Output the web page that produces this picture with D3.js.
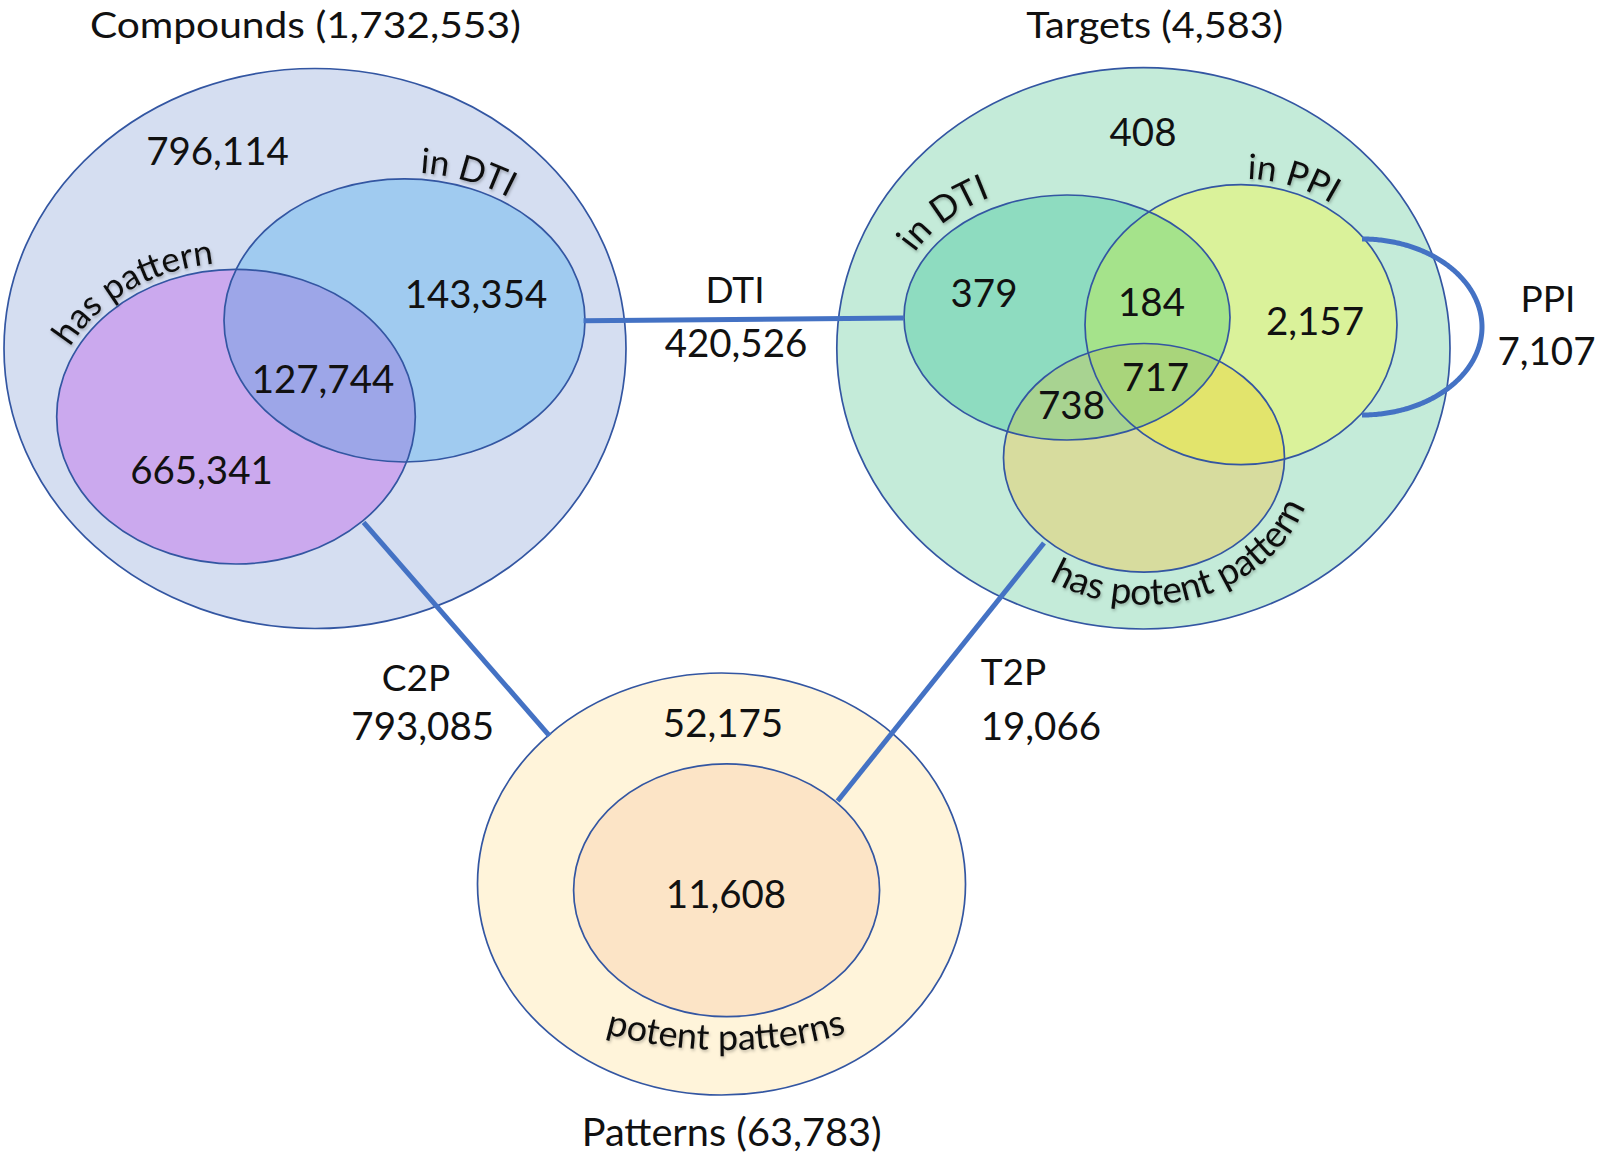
<!DOCTYPE html>
<html><head><meta charset="utf-8">
<script src="https://cdn.jsdelivr.net/npm/d3@7"></script>
<style>
body{margin:0;background:#fff}
svg{display:block}
text{font-family:Lato,"Open Sans",sans-serif;fill:#111}
</style>
</head><body>
<svg id="chart" width="1601" height="1158"></svg>
<script>
// ---------------- DATA ----------------
const setNames = ["Compounds", "Targets", "Patterns"];
const setTotals = [1732553, 4583, 63783];
const compoundRegionValues = [796114, 143354, 127744, 665341];
const targetRegionValues = [408, 379, 184, 2157, 717, 738];
const patternRegionValues = [52175, 11608];
const linkNames = ["DTI", "C2P", "T2P", "PPI"];
const linkValues = [420526, 793085, 19066, 7107];
const subsetLabels = ["in DTI", "has pattern", "in DTI", "in PPI", "has potent pattern", "potent patterns"];

// ---------------- LAYOUT ----------------
const W = 1601, H = 1158;
const x = d3.scaleLinear().domain([0, 1601]).range([0, W]);
const y = d3.scaleLinear().domain([0, 1158]).range([0, H]);
const fmt = d3.format(",");

const STROKE = "#3356A2";
const LINK = "#4472C4";

const E = {
  cOuter: {cx: 315, cy: 348.5, rx: 311, ry: 280, fill: "#D5DEF1"},
  cDTI:   {cx: 404.5, cy: 320.4, rx: 180.5, ry: 141.6, fill: "#A0CBF0"},
  cPat:   {cx: 236, cy: 416.7, rx: 179.3, ry: 147.3, fill: "#CBA9EE"},
  tOuter: {cx: 1143.4, cy: 348.3, rx: 306.6, ry: 280.7, fill: "#C4EBD9"},
  tDTI:   {cx: 1067, cy: 317.5, rx: 163, ry: 122.5, fill: "#8EDCC0"},
  tPPI:   {cx: 1241, cy: 324.7, rx: 156, ry: 140, fill: "#DAF29A"},
  tPot:   {cx: 1144, cy: 457.8, rx: 140.5, ry: 114.3, fill: "#D7DC9E"},
  pOuter: {cx: 721.5, cy: 884, rx: 244, ry: 211, fill: "#FFF4DA"},
  pPot:   {cx: 726.6, cy: 890.3, rx: 153, ry: 126.4, fill: "#FCE4C6"}
};
const intersections = [
  {sets: ["cDTI", "cPat"], fill: "#9DA6E8"},
  {sets: ["tDTI", "tPPI"], fill: "#A5E38B"},
  {sets: ["tDTI", "tPot"], fill: "#A8D391"},
  {sets: ["tPPI", "tPot"], fill: "#E2E46C"},
  {sets: ["tDTI", "tPPI", "tPot"], fill: "#A9D57B"}
];

const svg = d3.select("#chart");
const defs = svg.append("defs");
const shadow = defs.append("filter").attr("id", "sh").attr("x", "-10%").attr("y", "-10%").attr("width", "120%").attr("height", "130%");
shadow.append("feDropShadow").attr("dx", 1).attr("dy", 2).attr("stdDeviation", 1.5).attr("flood-color", "#000").attr("flood-opacity", 0.25);

function ell(sel, e) {
  return sel.append("ellipse")
    .attr("cx", x(e.cx)).attr("cy", y(e.cy))
    .attr("rx", x(e.rx) - x(0)).attr("ry", y(e.ry) - y(0));
}
Object.entries(E).forEach(([k, e]) => ell(defs.append("clipPath").attr("id", "clip-" + k), e));

// fills
const order = ["cOuter", "cDTI", "cPat", "tOuter", "tDTI", "tPPI", "tPot", "pOuter", "pPot"];
const gFill = svg.append("g");
order.forEach(k => ell(gFill, E[k]).attr("fill", E[k].fill));
intersections.forEach(it => {
  let g = gFill;
  it.sets.slice(0, -1).forEach(s => { g = g.append("g").attr("clip-path", `url(#clip-${s})`); });
  ell(g, E[it.sets[it.sets.length - 1]]).attr("fill", it.fill);
});
// outlines
const gStroke = svg.append("g");
order.forEach(k => ell(gStroke, E[k]).attr("fill", "none").attr("stroke", STROKE).attr("stroke-width", 1.7));

// arc sampling helper
function arcPts(a, t0, t1, n = 240) {
  const pts = [];
  for (let i = 0; i <= n; i++) {
    const t = (t0 + (t1 - t0) * i / n) * Math.PI / 180;
    pts.push([a.cx + a.rx * Math.cos(t), a.cy + a.ry * Math.sin(t)]);
  }
  return pts;
}
const line = d3.line().x(d => x(d[0])).y(d => y(d[1]));

// links
const linkGeom = [
  {pts: [[583.5, 320.8], [903.5, 318]]},
  {pts: [[363.6, 522.4], [549.5, 735.8]]},
  {pts: [[1044, 543], [837.6, 801]]},
  {pts: arcPts({cx: 1362, cy: 327, rx: 120, ry: 88}, -90, 90)}
];
const gLink = svg.append("g");
linkGeom.forEach(l => gLink.append("path").attr("d", line(l.pts))
  .attr("fill", "none").attr("stroke", LINK).attr("stroke-width", 5).attr("stroke-linecap", "butt"));

// straight labels
const NUM = 38.5, WORD = 37;
const labelPos = [
  // titles
  {t: `${setNames[0]} (${fmt(setTotals[0])})`, x: 305.4, y: 37.5, a: "middle", fs: 37, w: 431},
  {t: `${setNames[1]} (${fmt(setTotals[1])})`, x: 1154.7, y: 37.5, a: "middle", fs: 37, w: 257},
  {t: `${setNames[2]} (${fmt(setTotals[2])})`, x: 731.7, y: 1146, a: "middle", fs: 39, w: 300},
  // compounds
  {t: fmt(compoundRegionValues[0]), x: 217.5, y: 165, a: "middle", fs: NUM},
  {t: fmt(compoundRegionValues[1]), x: 476, y: 308, a: "middle", fs: NUM},
  {t: fmt(compoundRegionValues[2]), x: 323, y: 392.6, a: "middle", fs: NUM},
  {t: fmt(compoundRegionValues[3]), x: 201.5, y: 483.7, a: "middle", fs: NUM},
  // targets
  {t: fmt(targetRegionValues[0]), x: 1143, y: 146.4, a: "middle", fs: NUM},
  {t: fmt(targetRegionValues[1]), x: 984, y: 306.7, a: "middle", fs: NUM},
  {t: fmt(targetRegionValues[2]), x: 1151.5, y: 315.5, a: "middle", fs: NUM},
  {t: fmt(targetRegionValues[3]), x: 1315, y: 334.7, a: "middle", fs: NUM},
  {t: fmt(targetRegionValues[4]), x: 1155.6, y: 391.3, a: "middle", fs: NUM},
  {t: fmt(targetRegionValues[5]), x: 1071.5, y: 418.9, a: "middle", fs: NUM},
  // patterns
  {t: fmt(patternRegionValues[0]), x: 723, y: 736.5, a: "middle", fs: NUM},
  {t: fmt(patternRegionValues[1]), x: 726, y: 907.5, a: "middle", fs: NUM},
  // links
  {t: linkNames[0], x: 735, y: 303.3, a: "middle", fs: WORD},
  {t: fmt(linkValues[0]), x: 736, y: 356.7, a: "middle", fs: NUM},
  {t: linkNames[1], x: 416, y: 690.7, a: "middle", fs: WORD},
  {t: fmt(linkValues[1]), x: 422.7, y: 740, a: "middle", fs: NUM},
  {t: linkNames[2], x: 980.7, y: 685, a: "start", fs: WORD},
  {t: fmt(linkValues[2]), x: 980.7, y: 740, a: "start", fs: NUM},
  {t: linkNames[3], x: 1548, y: 311.7, a: "middle", fs: WORD},
  {t: fmt(linkValues[3]), x: 1546.5, y: 365, a: "middle", fs: NUM}
];
const gText = svg.append("g");
labelPos.forEach(l => {
  const t = gText.append("text").attr("x", x(l.x)).attr("y", y(l.y))
    .attr("text-anchor", l.a).attr("font-size", l.fs).text(l.t);
  if (l.w) t.attr("textLength", x(l.w) - x(0)).attr("lengthAdjust", "spacingAndGlyphs");
});

// curved labels
const curved = [
  {t: subsetLabels[0], a: {cx: 404.5, cy: 320.4, rx: 187, ry: 148}, t0: -180, t1: 0, tc: -71, fs: 35},
  {t: subsetLabels[1], a: {cx: 236, cy: 416.7, rx: 186, ry: 154}, t0: -200, t1: -20, tc: -124, fs: 35},
  {t: subsetLabels[2], a: {cx: 1067, cy: 317.5, rx: 174, ry: 134}, t0: -200, t1: 0, tc: -133, fs: 36},
  {t: subsetLabels[3], a: {cx: 1241, cy: 324.7, rx: 162, ry: 146}, t0: -180, t1: 0, tc: -72, fs: 35},
  {t: subsetLabels[4], a: {cx: 1144, cy: 457.8, rx: 171, ry: 147}, t0: 200, t1: -40, tc: 73, fs: 37},
  {t: subsetLabels[5], a: {cx: 726, cy: 605, rx: 445, ry: 445}, t0: 150, t1: 30, tc: 90, fs: 36}
];
curved.forEach((c, i) => {
  const n = 480;
  const pts = arcPts(c.a, c.t0, c.t1, n);
  const id = "cp" + i;
  defs.append("path").attr("id", id).attr("d", line(pts));
  const k = Math.round((c.tc - c.t0) / (c.t1 - c.t0) * n);
  let L = 0;
  for (let j = 1; j <= k; j++) {
    const dx = x(pts[j][0]) - x(pts[j - 1][0]), dy = y(pts[j][1]) - y(pts[j - 1][1]);
    L += Math.hypot(dx, dy);
  }
  gText.append("text").attr("font-size", c.fs).attr("filter", "url(#sh)")
    .append("textPath").attr("href", "#" + id).attr("xlink:href", "#" + id)
    .attr("startOffset", L).attr("text-anchor", "middle").text(c.t);
});
</script>
</body></html>
